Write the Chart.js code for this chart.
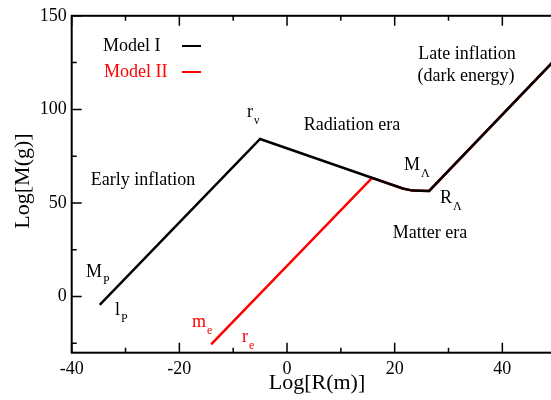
<!DOCTYPE html>
<html>
<head>
<meta charset="utf-8">
<script src="https://cdn.jsdelivr.net/npm/chart.js@4"></script>
<style>
  html, body { margin: 0; padding: 0; background: #fff; overflow: hidden; }
  #wrap { width: 625px; height: 400px; }
</style>
</head>
<body>
<div id="wrap"><canvas id="chart" width="625" height="400"></canvas></div>
<script>
// data (log10 of radius in m, log10 of mass in g)
const model1R = [-34.8, -5, 21.5, 23.3, 26.4, 57.6];
const model1M = [-4.4, 84.2, 57.7, 56.6, 56.4, 150];
const model2R = [-14.1, 15.8, 21.5, 23.3, 26.4, 57.6];
const model2M = [-25.6, 63.4, 57.7, 56.6, 56.4, 150];

const xMajor = [-40, -20, 0, 20, 40, 60];
const xMinor = [-30, -10, 10, 30, 50];
const yMajor = [0, 50, 100, 150];
const yMinor = [-25, 25, 75, 125];

const serif = "'Liberation Serif', 'DejaVu Serif', serif";

const toPts = (xs, ys) => xs.map((x, i) => ({ x: x, y: ys[i] }));

// frame + inward ticks on all four sides
const framePlugin = {
  id: 'frame',
  afterDatasetsDraw(chart) {
    const { ctx, chartArea: a, scales: { x, y } } = chart;
    ctx.save();
    ctx.strokeStyle = '#000';
    ctx.lineWidth = 2;
    ctx.strokeRect(a.left, a.top, a.right - a.left, a.bottom - a.top);
    ctx.lineWidth = 1.5;
    const tick = (vals, len) => {
      vals.forEach(v => {
        const px = x.getPixelForValue(v);
        ctx.beginPath();
        ctx.moveTo(px, a.bottom); ctx.lineTo(px, a.bottom - len);
        ctx.moveTo(px, a.top); ctx.lineTo(px, a.top + len);
        ctx.stroke();
      });
    };
    const tickY = (vals, len) => {
      vals.forEach(v => {
        const py = y.getPixelForValue(v);
        ctx.beginPath();
        ctx.moveTo(a.left, py); ctx.lineTo(a.left + len, py);
        ctx.moveTo(a.right, py); ctx.lineTo(a.right - len, py);
        ctx.stroke();
      });
    };
    tick(xMajor, 10); tick(xMinor, 5);
    tickY(yMajor, 10); tickY(yMinor, 5);
    ctx.restore();
  }
};

// legend, annotations and axis titles
function label(ctx, txt, sub, x, y, color) {
  ctx.fillStyle = color || '#000';
  ctx.font = '18px ' + serif;
  ctx.textAlign = 'left';
  ctx.textBaseline = 'alphabetic';
  ctx.fillText(txt, x, y);
  const w = ctx.measureText(txt).width;
  ctx.font = '12px ' + serif;
  ctx.fillText(sub, x + w + 1, y + 7);
}

const textPlugin = {
  id: 'texts',
  afterDraw(chart) {
    const ctx = chart.ctx;
    ctx.save();
    ctx.textBaseline = 'middle';
    ctx.textAlign = 'left';
    ctx.font = '18px ' + serif;
    ctx.fillStyle = '#000';
    ctx.fillText('Model I', 103, 46);
    ctx.fillStyle = '#f00';
    ctx.fillText('Model II', 104, 72);
    ctx.lineWidth = 2;
    ctx.strokeStyle = '#000';
    ctx.beginPath(); ctx.moveTo(182, 46); ctx.lineTo(201, 46); ctx.stroke();
    ctx.strokeStyle = '#f00';
    ctx.beginPath(); ctx.moveTo(182, 72); ctx.lineTo(201, 72); ctx.stroke();

    ctx.fillStyle = '#000';
    ctx.textAlign = 'center';
    ctx.fillText('Early inflation', 143, 180);
    ctx.fillText('Radiation era', 352, 125);
    ctx.fillText('Late inflation', 467, 54);
    ctx.fillText('(dark energy)', 466, 76);
    ctx.fillText('Matter era', 430, 233);

    label(ctx, 'r', '\u03bd', 247, 117);
    label(ctx, 'M', '\u039b', 404, 170);
    label(ctx, 'R', '\u039b', 440, 203);
    label(ctx, 'M', 'P', 86, 277);
    label(ctx, 'l', 'P', 115, 315);
    label(ctx, 'm', 'e', 192, 327, '#f00');
    label(ctx, 'r', 'e', 242, 342, '#f00');

    ctx.fillStyle = '#000';
    ctx.font = '22px ' + serif;
    ctx.textAlign = 'center';
    ctx.textBaseline = 'middle';
    ctx.fillText('Log[R(m)]', 317, 383);
    ctx.translate(23, 181);
    ctx.rotate(-Math.PI / 2);
    ctx.fillText('Log[M(g)]', 0, 0);
    ctx.restore();
  }
};

new Chart(document.getElementById('chart'), {
  type: 'scatter',
  data: {
    datasets: [
      { label: 'Model I', data: toPts(model1R, model1M), showLine: true, borderColor: '#000', borderWidth: 2.5, pointRadius: 0 },
      { label: 'Model II', data: toPts(model2R, model2M), showLine: true, borderColor: '#f00', borderWidth: 2.5, pointRadius: 0 }
    ]
  },
  options: {
    responsive: false,
    animation: false,
    layout: { padding: { top: 10.7, right: 9, left: 0, bottom: 0 } },
    plugins: { legend: { display: false }, tooltip: { enabled: false } },
    scales: {
      x: {
        type: 'linear', min: -40, max: 60,
        grid: { display: false, drawTicks: false },
        border: { display: false },
        ticks: { stepSize: 20, includeBounds: false, padding: 6, color: '#000', font: { family: serif, size: 18 } },
        afterFit: s => { s.height = 47.3; }
      },
      y: {
        type: 'linear', min: -30, max: 150,
        grid: { display: false, drawTicks: false },
        border: { display: false },
        ticks: { stepSize: 50, includeBounds: false, padding: 5, color: '#000', font: { family: serif, size: 18 } },
        afterFit: s => { s.width = 71.7; }
      }
    }
  },
  plugins: [framePlugin, textPlugin]
});
</script>
</body>
</html>
